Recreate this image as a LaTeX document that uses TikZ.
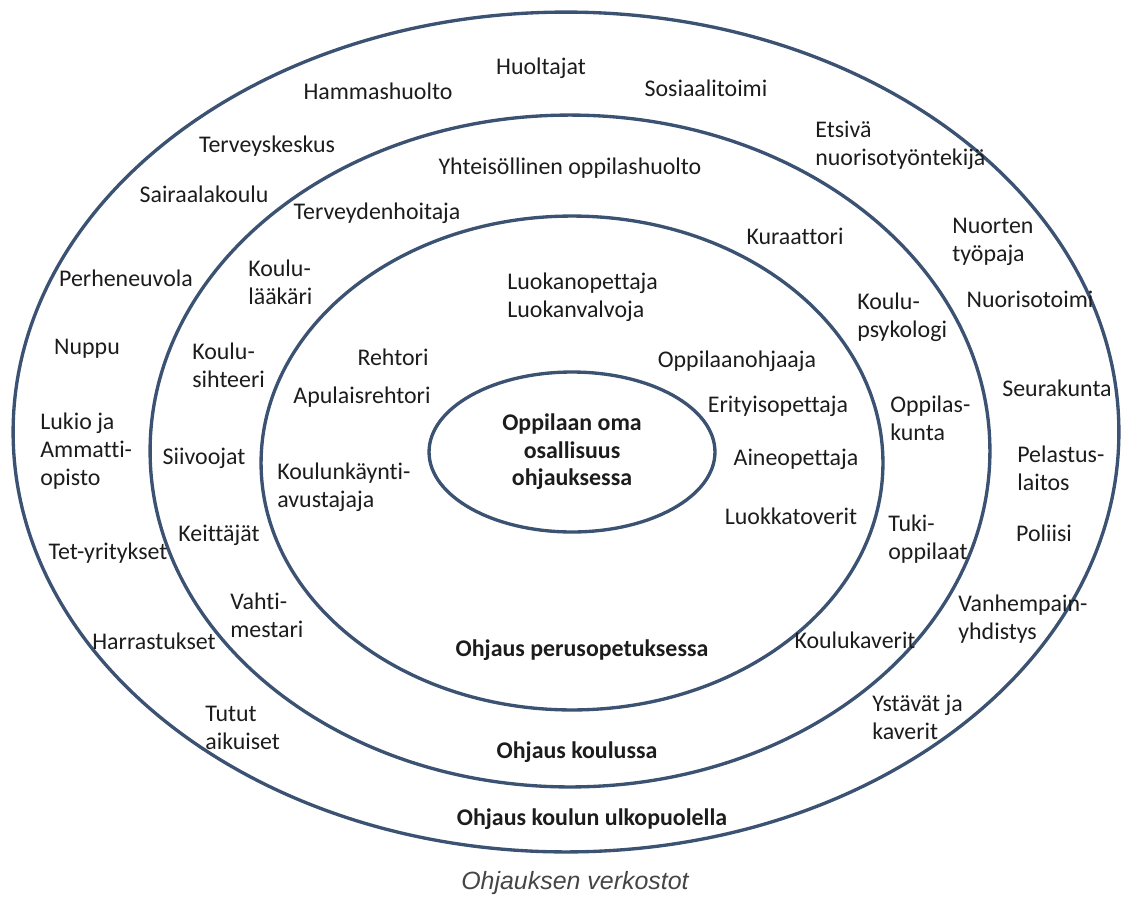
\documentclass[tikz,border=0pt]{standalone}
\usepackage{fontspec}
\setmainfont{Carlito}[Ligatures=NoCommon]
\newfontfamily\capfont{Liberation Sans}
\usetikzlibrary{positioning}
\definecolor{ringblue}{HTML}{3B5272}
\definecolor{txtdark}{HTML}{1C1C1C}
\definecolor{capgray}{HTML}{454545}
\tikzset{
	ring/.style={draw=ringblue, line width=1.9pt},
	lab/.style={inner sep=0pt, font=\fontsize{13.6}{15.9}\selectfont, text=txtdark, text height=1.45ex, text depth=0pt},
	mlab/.style={inner sep=0pt, font=\fontsize{13.6}{15.9}\selectfont, text=txtdark, align=left, anchor=north west},
	head/.style={lab, font=\fontsize{13.6}{15.9}\selectfont\bfseries},
	caption/.style={inner sep=0pt, font=\capfont\itshape\fontsize{14.2}{17}\selectfont, text=capgray}
}
\begin{document}
\begin{tikzpicture}[x=0.02cm,y=-0.02cm]
				\useasboundingbox (0,0) rectangle (1131,899);
				
				%%%% rings
				\draw[ring] (566,432) ellipse [x radius=11.06cm, y radius=8.4cm];
				\draw[ring] (570,451) ellipse [x radius=8.4cm, y radius=6.72cm];
				\draw[ring] (572,463) ellipse [x radius=6.22cm, y radius=4.94cm];
				\draw[ring] (572,452) ellipse [x radius=2.86cm, y radius=1.6cm];
				
				%%%% outside the school
				\node[lab] (huolt) at (541,68) {Huoltajat};
				\node[lab] (hamm) at (378,93) {Hammashuolto};
				\node[lab] (sosi) at (706,90) {Sosiaalitoimi};
				\node[lab] (terk) at (267,146) {Terveyskeskus};
				\node[lab] (sair) at (204,196) {Sairaalakoulu};
				\node[mlab] (etsi) at (815,121) {Etsivä\\nuorisotyöntekijä};
				\node[mlab] (nuort) at (952,218) {Nuorten\\työpaja};
				\node[lab] (nuoso) at (1030,301) {Nuorisotoimi};
				\node[lab] (perhe) at (126,280) {Perheneuvola};
				\node[lab] (nuppu) at (87,348) {Nuppu};
				\node[mlab] (lukio) at (40,413) {Lukio ja\\Ammatti-\\opisto};
				\node[lab] (tet) at (108,553) {Tet-yritykset};
				\node[lab] (harr) at (154,643) {Harrastukset};
				\node[mlab] (tutut) at (205,706) {Tutut\\aikuiset};
				\node[lab] (seura) at (1057,390) {Seurakunta};
				\node[mlab] (pelas) at (1017,446) {Pelastus-\\laitos};
				\node[lab] (polii) at (1044,535) {Poliisi};
				\node[mlab] (vanh) at (958,595) {Vanhempain-\\yhdistys};
				\node[mlab] (ystav) at (872,695) {Ystävät ja\\kaverit};
				\node[head] (ulko) at (592,819) {Ohjaus koulun ulkopuolella};
				
				%%%% in the school
				\node[lab] (yhteis) at (570,168) {Yhteisöllinen oppilashuolto};
				\node[lab] (terh) at (377,213) {Terveydenhoitaja};
				\node[lab] (kura) at (795,238) {Kuraattori};
				\node[mlab] (kllaak) at (248,260) {Koulu-\\lääkäri};
				\node[mlab] (klpsyk) at (857,293) {Koulu-\\psykologi};
				\node[mlab] (klsiht) at (192,343) {Koulu-\\sihteeri};
				\node[lab] (siiv) at (204,458) {Siivoojat};
				\node[mlab] (oppk) at (890,396) {Oppilas-\\kunta};
				\node[lab] (keitt) at (219,535) {Keittäjät};
				\node[mlab] (tuki) at (888,515) {Tuki-\\oppilaat};
				\node[mlab] (vahti) at (230,593) {Vahti-\\mestari};
				\node[lab] (klkav) at (855,642) {Koulukaverit};
				\node[head] (koulu) at (577,752) {Ohjaus koulussa};
				
				%%%% basic education
				\node[mlab] (luok) at (507,273) {Luokanopettaja\\Luokanvalvoja};
				\node[lab] (reht) at (393,359) {Rehtori};
				\node[lab] (apreht) at (362,397) {Apulaisrehtori};
				\node[mlab] (avust) at (277,463) {Koulunkäynti-\\avustajaja};
				\node[lab] (opoh) at (737,361) {Oppilaanohjaaja};
				\node[lab] (erit) at (778,406) {Erityisopettaja};
				\node[lab] (aine) at (796,459) {Aineopettaja};
				\node[lab] (ltov) at (791,518) {Luokkatoverit};
				\node[head] (perus) at (582,650) {Ohjaus perusopetuksessa};
				
				%%%% the pupil
				\node[mlab, anchor=north, align=center, font=\fontsize{13.6}{15.9}\selectfont\bfseries] (oppil) at (572,413) {Oppilaan oma\\osallisuus\\ohjauksessa};
				
				\node[caption] (cap) at (575,883) {Ohjauksen verkostot};
\end{tikzpicture}
\end{document}
